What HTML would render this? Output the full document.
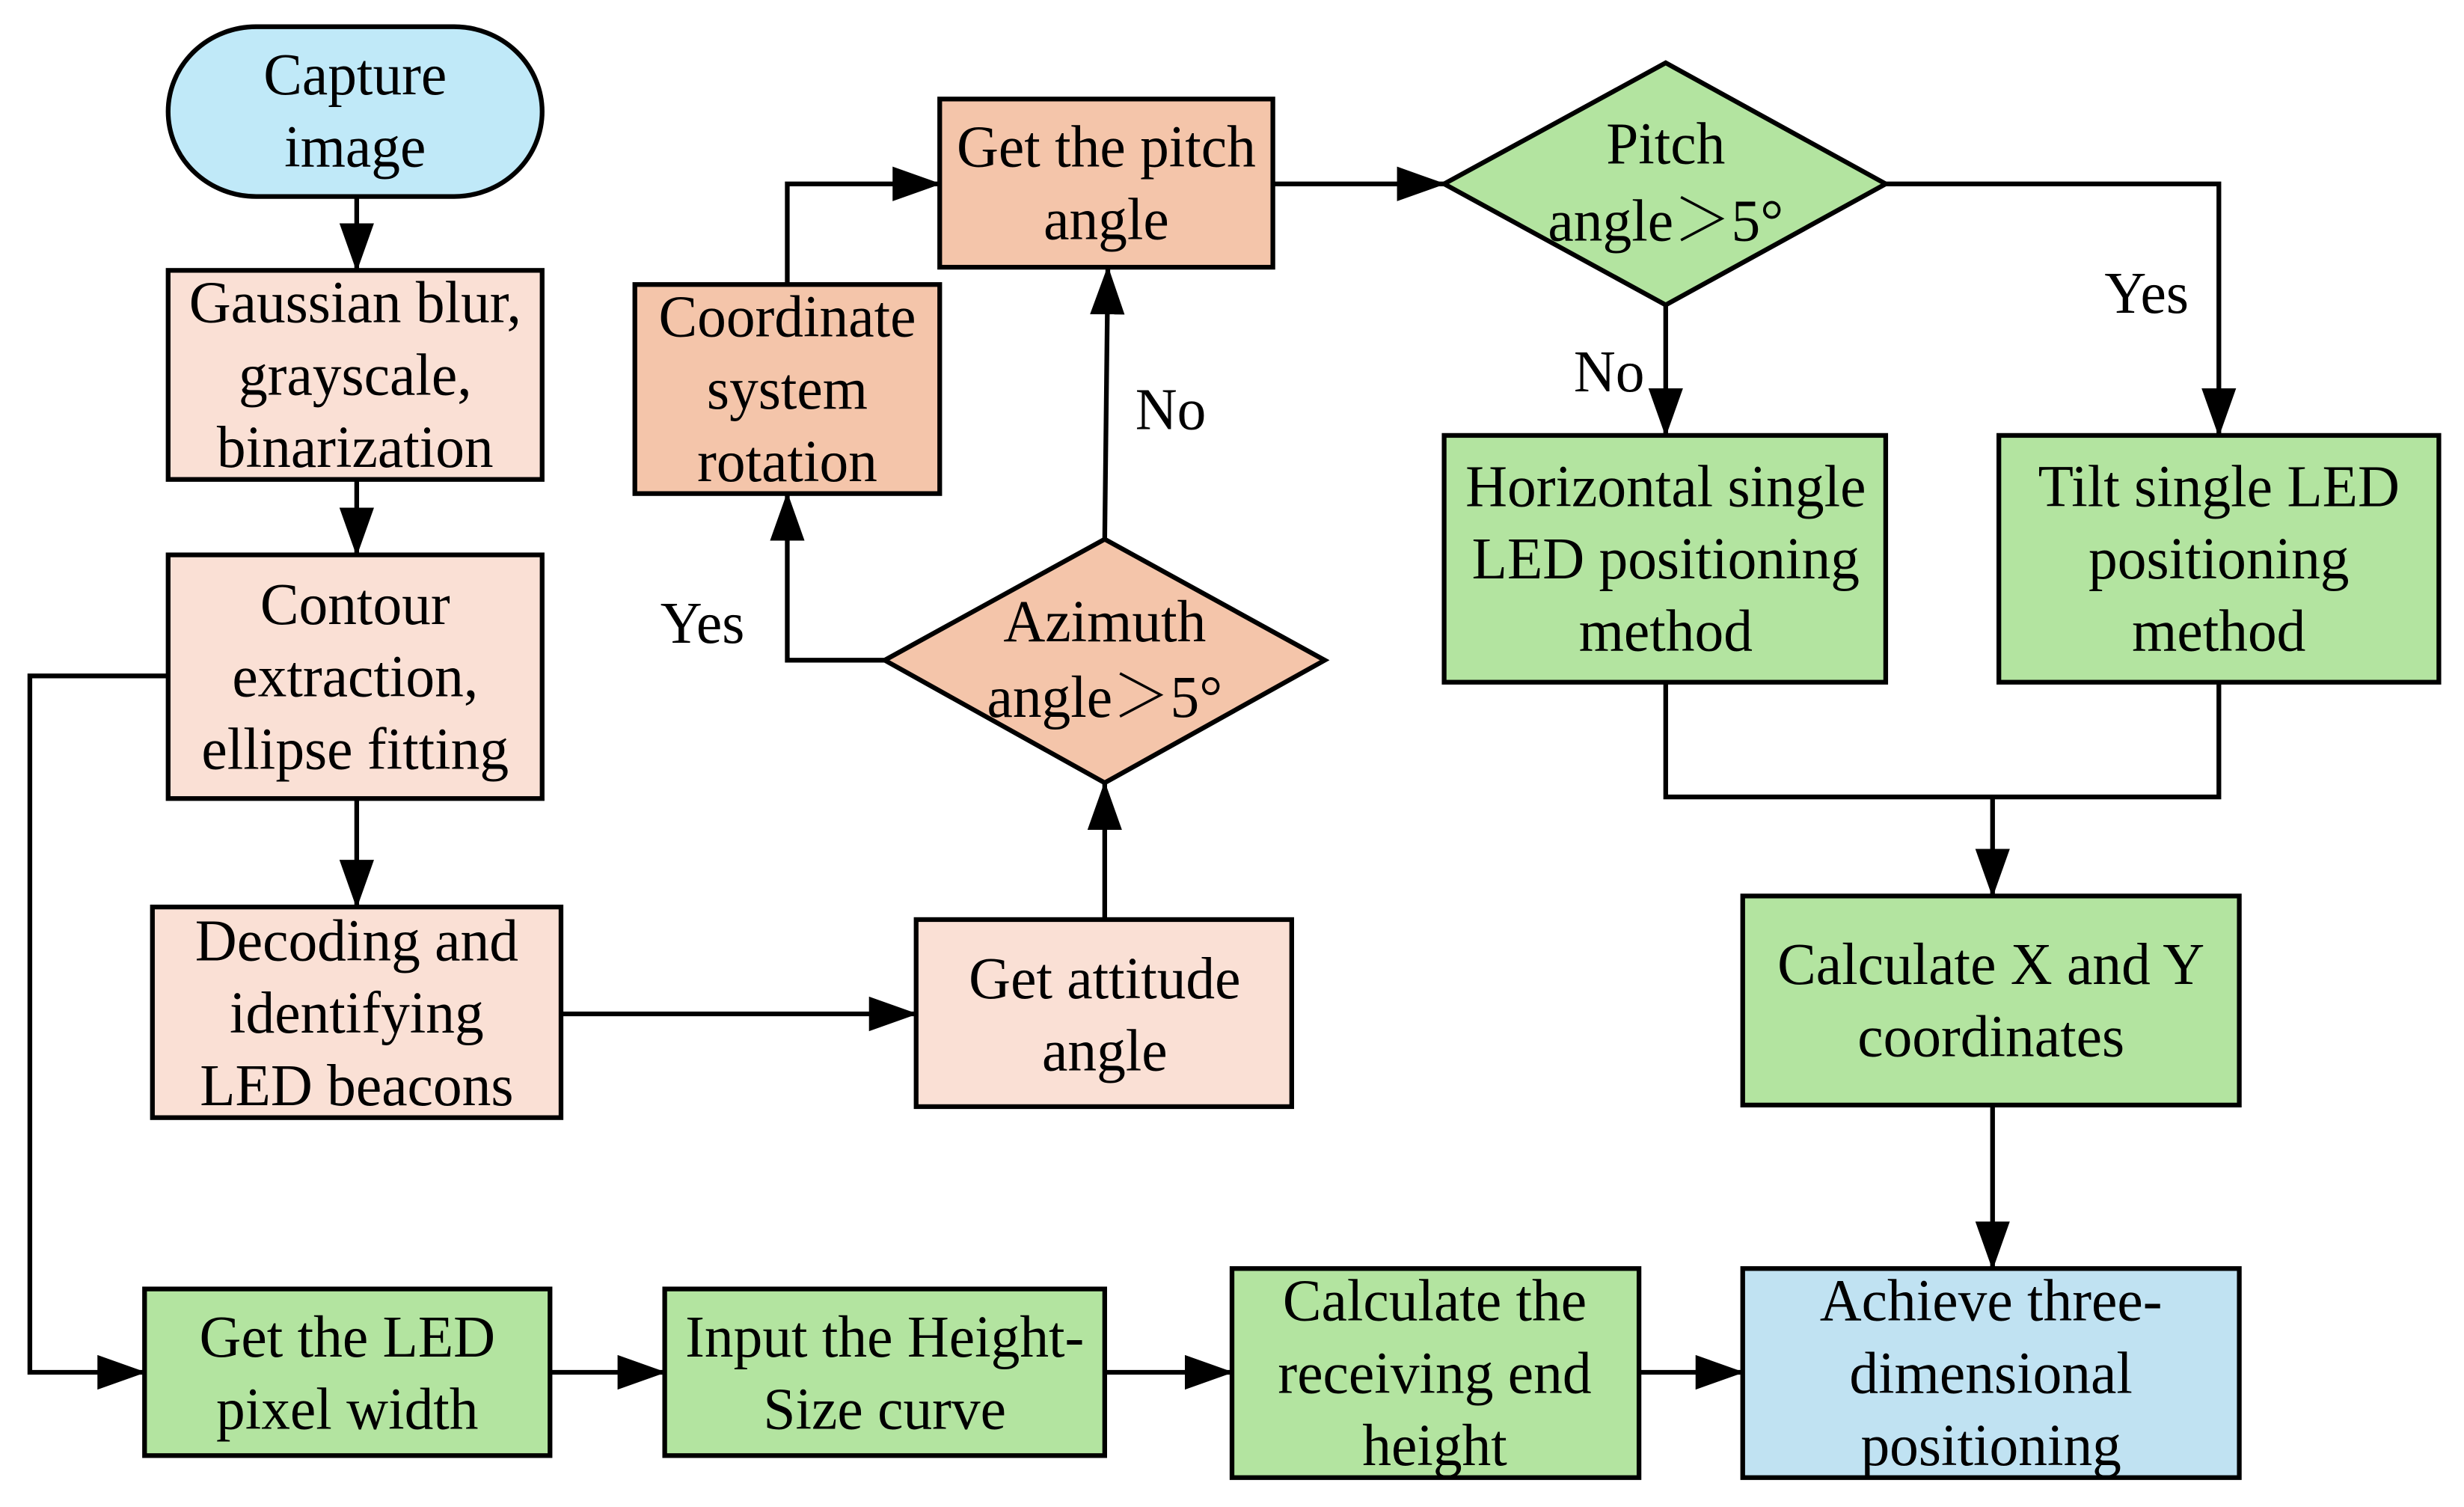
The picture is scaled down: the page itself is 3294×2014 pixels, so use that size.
<!DOCTYPE html>
<html><head><meta charset="utf-8"><style>html,body{margin:0;padding:0;background:#fff}svg{display:block}
text{transform:scaleX(0.97);transform-box:fill-box;transform-origin:center}</style></head>
<body>
<svg width="3294" height="2014" viewBox="0 0 1568 958.7" preserveAspectRatio="none" xmlns="http://www.w3.org/2000/svg">
<defs>
<marker id="a" markerWidth="34" markerHeight="26" refX="30" refY="11" orient="auto" markerUnits="userSpaceOnUse">
<path d="M0,0 L31,11 L0,22 Z" fill="#000"/></marker>
</defs>
<g stroke="#000" stroke-width="3">
<rect x="107" y="17" width="238" height="108" rx="56" ry="54" fill="#c0e9f8"/>
<rect x="107" y="172" width="238" height="133" fill="#fae0d5"/>
<rect x="107" y="353" width="238" height="155" fill="#fae0d5"/>
<rect x="97" y="577" width="260" height="134" fill="#fae0d5"/>
<rect x="583" y="585" width="239" height="119" fill="#fae0d5"/>
<polygon points="563,420 703,343 843,420 703,498" fill="#f4c5aa"/>
<rect x="404" y="181" width="194" height="133" fill="#f4c5aa"/>
<rect x="598" y="63" width="212" height="107" fill="#f4c5aa"/>
<polygon points="919,117 1060,40 1200,117 1060,194" fill="#b3e4a0"/>
<rect x="919" y="277" width="281" height="157" fill="#b3e4a0"/>
<rect x="1272" y="277" width="280" height="157" fill="#b3e4a0"/>
<rect x="1109" y="570" width="316" height="133" fill="#b3e4a0"/>
<rect x="1109" y="807" width="316" height="133" fill="#c0e2f2"/>
<rect x="92" y="820" width="258" height="106" fill="#b3e4a0"/>
<rect x="423" y="820" width="280" height="106" fill="#b3e4a0"/>
<rect x="784" y="807" width="259" height="133" fill="#b3e4a0"/>
</g>
<g stroke="#000" stroke-width="3" fill="none" marker-end="url(#a)">
<path d="M227,125 V172"/>
<path d="M227,305 V353"/>
<path d="M227,508 V577"/>
<path d="M357,645 H583"/>
<path d="M703,585 V498"/>
<path d="M703,343 L705,170"/>
<path d="M563,420 H501 V314"/>
<path d="M501,181 V117 H598"/>
<path d="M810,117 H919"/>
<path d="M1060,194 V277"/>
<path d="M1200,117 H1412 V277"/>
<path d="M1268,507 V570"/>
<path d="M1268,703 V807"/>
<path d="M107,430 H19 V873 H92"/>
<path d="M350,873 H423"/>
<path d="M703,873 H784"/>
<path d="M1043,873 H1109"/>
</g>
<path d="M1060,434 V507 H1412 V434" stroke="#000" stroke-width="3" fill="none"/>
<g font-family="'Liberation Serif','Noto Serif CJK SC',serif" font-size="38" text-anchor="middle" fill="#000">
<text x="226" y="60">Capture</text><text x="226" y="106">image</text>
<text x="226" y="205">Gaussian blur,</text><text x="226" y="251">grayscale,</text><text x="226" y="297">binarization</text>
<text x="226" y="397">Contour</text><text x="226" y="443">extraction,</text><text x="226" y="489">ellipse fitting</text>
<text x="227" y="611">Decoding and</text><text x="227" y="657">identifying</text><text x="227" y="703">LED beacons</text>
<text x="703" y="635">Get attitude</text><text x="703" y="681">angle</text>
<text x="703" y="408">Azimuth</text><text x="703" y="456">angle＞5°</text>
<text x="501" y="214">Coordinate</text><text x="501" y="260">system</text><text x="501" y="306">rotation</text>
<text x="704" y="106">Get the pitch</text><text x="704" y="152">angle</text>
<text x="1060" y="104">Pitch</text><text x="1060" y="153">angle＞5°</text>
<text x="1060" y="322">Horizontal single</text><text x="1060" y="368">LED positioning</text><text x="1060" y="414">method</text>
<text x="1412" y="322">Tilt single LED</text><text x="1412" y="368">positioning</text><text x="1412" y="414">method</text>
<text x="1267" y="626">Calculate X and Y</text><text x="1267" y="672">coordinates</text>
<text x="1267" y="840">Achieve three-</text><text x="1267" y="886">dimensional</text><text x="1267" y="932">positioning</text>
<text x="221" y="863">Get the LED</text><text x="221" y="909">pixel width</text>
<text x="563" y="863">Input the Height-</text><text x="563" y="909">Size curve</text>
<text x="913" y="840">Calculate the</text><text x="913" y="886">receiving end</text><text x="913" y="932">height</text>
<text x="745" y="273">No</text>
<text x="447" y="409">Yes</text>
<text x="1024" y="249">No</text>
<text x="1366" y="199">Yes</text>
</g>
</svg>
</body></html>
